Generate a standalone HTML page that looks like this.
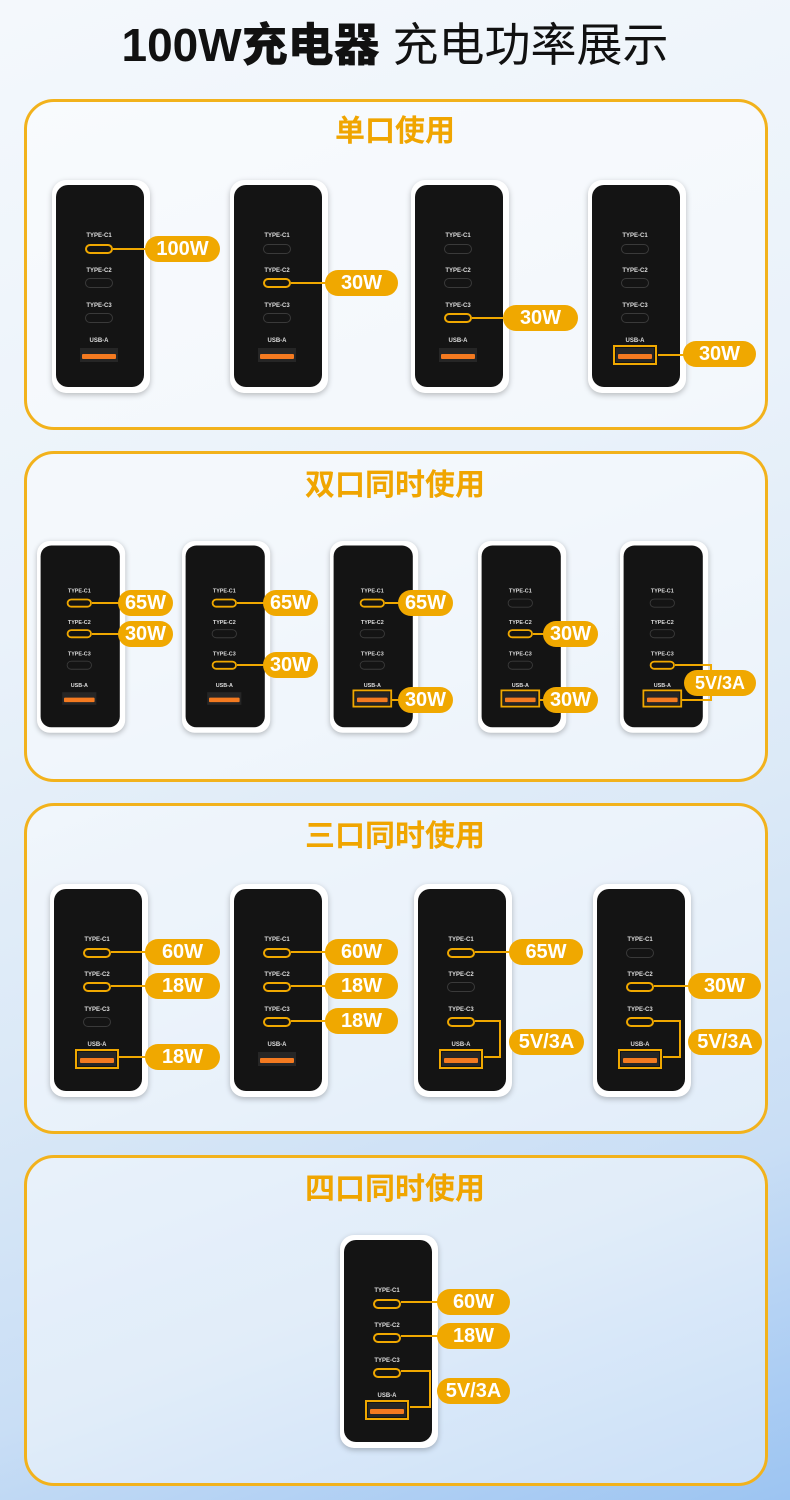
<!DOCTYPE html>
<html><head><meta charset="utf-8"><style>
*{margin:0;padding:0;box-sizing:border-box}
body{width:790px;height:1500px;position:relative;overflow:hidden;font-family:"Liberation Sans","Noto Sans CJK SC",sans-serif;
background:linear-gradient(160deg,#f4f8fc 0%,#eaf2fa 35%,#dbe9f7 60%,#c9def5 80%,#9cc4f2 100%)}
.t{position:absolute;top:16px;left:0;width:790px;text-align:center;font-size:46px;color:#111;line-height:58px}
.t b{font-weight:900}.t span{font-weight:400}
.sec{position:absolute;left:24px;width:744px;height:331px;border:3px solid #f2b21c;border-radius:30px;background:rgba(255,255,255,.45)}
.hd{position:absolute;left:0;width:790px;text-align:center;font-size:30px;font-weight:bold;color:#f0a500;line-height:36px}
.ch{position:absolute;width:98px;height:213px;background:#fff;border-radius:14px;box-shadow:0 2px 6px rgba(0,0,0,.25);transform-origin:0 0}
.ch.s{transform:scale(.9)}
.bk{position:absolute;left:4px;top:5px;right:6px;bottom:6px;background:#141414;border-radius:12px}
.l{position:absolute;left:0;width:94px;text-align:center;font-size:6px;color:#ddd;line-height:8px;font-weight:bold}
.c{position:absolute;left:33px;width:28px;height:10px;border:1.5px solid #3a3a3a;border-radius:6px}
.c.on{border-color:#f0a800;border-width:2px}
.u{position:absolute;left:28px;top:168px;width:38px;height:14px;background:#262626}
.u::after{content:"";position:absolute;left:2px;right:2px;top:6px;height:5px;background:#f47a20;border-radius:1px}
.u.on{outline:2px solid #f0a800;outline-offset:1px}
.p{position:absolute;height:26px;line-height:26px;border-radius:13px;background:#f0a800;color:#fff;font-size:20px;font-weight:bold;text-align:center;transform:translateY(-50%)}
.h{position:absolute;height:2px;background:#f0a800}
.v{position:absolute;width:2px;background:#f0a800}
</style></head><body>
<div class="t"><b>100W充电器</b> <span>充电功率展示</span></div>

<div class="sec" style="top:99px"></div>
<div class="sec" style="top:451px"></div>
<div class="sec" style="top:803px"></div>
<div class="sec" style="top:1155px"></div>
<div class="hd" style="top:114px">单口使用</div>
<div class="hd" style="top:468px">双口同时使用</div>
<div class="hd" style="top:819px">三口同时使用</div>
<div class="hd" style="top:1172px">四口同时使用</div>

<!-- Section 1 -->
<div class="ch" style="left:52px;top:180px"><div class="bk"></div><span class="l" style="top:52px">TYPE-C1</span><i class="c on" style="top:64px"></i><span class="l" style="top:87px">TYPE-C2</span><i class="c" style="top:98px"></i><span class="l" style="top:122px">TYPE-C3</span><i class="c" style="top:133px"></i><span class="l" style="top:157px">USB-A</span><i class="u"></i></div>
<div class="ch" style="left:230px;top:180px"><div class="bk"></div><span class="l" style="top:52px">TYPE-C1</span><i class="c" style="top:64px"></i><span class="l" style="top:87px">TYPE-C2</span><i class="c on" style="top:98px"></i><span class="l" style="top:122px">TYPE-C3</span><i class="c" style="top:133px"></i><span class="l" style="top:157px">USB-A</span><i class="u"></i></div>
<div class="ch" style="left:411px;top:180px"><div class="bk"></div><span class="l" style="top:52px">TYPE-C1</span><i class="c" style="top:64px"></i><span class="l" style="top:87px">TYPE-C2</span><i class="c" style="top:98px"></i><span class="l" style="top:122px">TYPE-C3</span><i class="c on" style="top:133px"></i><span class="l" style="top:157px">USB-A</span><i class="u"></i></div>
<div class="ch" style="left:588px;top:180px"><div class="bk"></div><span class="l" style="top:52px">TYPE-C1</span><i class="c" style="top:64px"></i><span class="l" style="top:87px">TYPE-C2</span><i class="c" style="top:98px"></i><span class="l" style="top:122px">TYPE-C3</span><i class="c" style="top:133px"></i><span class="l" style="top:157px">USB-A</span><i class="u on"></i></div>
<div class="h" style="left:113px;top:248px;width:40px"></div><div class="p" style="left:145px;top:249px;width:75px">100W</div>
<div class="h" style="left:291px;top:282px;width:40px"></div><div class="p" style="left:325px;top:283px;width:73px">30W</div>
<div class="h" style="left:472px;top:317px;width:40px"></div><div class="p" style="left:503px;top:318px;width:75px">30W</div>
<div class="h" style="left:658px;top:354px;width:30px"></div><div class="p" style="left:683px;top:354px;width:73px">30W</div>

<!-- Section 2 -->
<div class="ch s" style="left:37px;top:541px"><div class="bk"></div><span class="l" style="top:52px">TYPE-C1</span><i class="c on" style="top:64px"></i><span class="l" style="top:87px">TYPE-C2</span><i class="c on" style="top:98px"></i><span class="l" style="top:122px">TYPE-C3</span><i class="c" style="top:133px"></i><span class="l" style="top:157px">USB-A</span><i class="u"></i></div>
<div class="ch s" style="left:182px;top:541px"><div class="bk"></div><span class="l" style="top:52px">TYPE-C1</span><i class="c on" style="top:64px"></i><span class="l" style="top:87px">TYPE-C2</span><i class="c" style="top:98px"></i><span class="l" style="top:122px">TYPE-C3</span><i class="c on" style="top:133px"></i><span class="l" style="top:157px">USB-A</span><i class="u"></i></div>
<div class="ch s" style="left:330px;top:541px"><div class="bk"></div><span class="l" style="top:52px">TYPE-C1</span><i class="c on" style="top:64px"></i><span class="l" style="top:87px">TYPE-C2</span><i class="c" style="top:98px"></i><span class="l" style="top:122px">TYPE-C3</span><i class="c" style="top:133px"></i><span class="l" style="top:157px">USB-A</span><i class="u on"></i></div>
<div class="ch s" style="left:478px;top:541px"><div class="bk"></div><span class="l" style="top:52px">TYPE-C1</span><i class="c" style="top:64px"></i><span class="l" style="top:87px">TYPE-C2</span><i class="c on" style="top:98px"></i><span class="l" style="top:122px">TYPE-C3</span><i class="c" style="top:133px"></i><span class="l" style="top:157px">USB-A</span><i class="u on"></i></div>
<div class="ch s" style="left:620px;top:541px"><div class="bk"></div><span class="l" style="top:52px">TYPE-C1</span><i class="c" style="top:64px"></i><span class="l" style="top:87px">TYPE-C2</span><i class="c" style="top:98px"></i><span class="l" style="top:122px">TYPE-C3</span><i class="c on" style="top:133px"></i><span class="l" style="top:157px">USB-A</span><i class="u on"></i></div>
<div class="h" style="left:92px;top:602px;width:30px"></div><div class="p" style="left:118px;top:603px;width:55px">65W</div>
<div class="h" style="left:92px;top:633px;width:30px"></div><div class="p" style="left:118px;top:634px;width:55px">30W</div>
<div class="h" style="left:237px;top:602px;width:30px"></div><div class="p" style="left:263px;top:603px;width:55px">65W</div>
<div class="h" style="left:237px;top:664px;width:30px"></div><div class="p" style="left:263px;top:665px;width:55px">30W</div>
<div class="h" style="left:385px;top:602px;width:20px"></div><div class="p" style="left:398px;top:603px;width:55px">65W</div>
<div class="h" style="left:391px;top:699px;width:12px"></div><div class="p" style="left:398px;top:700px;width:55px">30W</div>
<div class="h" style="left:533px;top:633px;width:14px"></div><div class="p" style="left:543px;top:634px;width:55px">30W</div>
<div class="h" style="left:539px;top:699px;width:10px"></div><div class="p" style="left:543px;top:700px;width:55px">30W</div>
<div class="h" style="left:675px;top:664px;width:37px"></div><div class="v" style="left:710px;top:664px;height:37px"></div><div class="h" style="left:681px;top:699px;width:31px"></div>
<div class="p" style="left:684px;top:683px;width:72px;font-size:18px">5V/3A</div>

<!-- Section 3 -->
<div class="ch" style="left:50px;top:884px"><div class="bk"></div><span class="l" style="top:52px">TYPE-C1</span><i class="c on" style="top:64px"></i><span class="l" style="top:87px">TYPE-C2</span><i class="c on" style="top:98px"></i><span class="l" style="top:122px">TYPE-C3</span><i class="c" style="top:133px"></i><span class="l" style="top:157px">USB-A</span><i class="u on"></i></div>
<div class="ch" style="left:230px;top:884px"><div class="bk"></div><span class="l" style="top:52px">TYPE-C1</span><i class="c on" style="top:64px"></i><span class="l" style="top:87px">TYPE-C2</span><i class="c on" style="top:98px"></i><span class="l" style="top:122px">TYPE-C3</span><i class="c on" style="top:133px"></i><span class="l" style="top:157px">USB-A</span><i class="u"></i></div>
<div class="ch" style="left:414px;top:884px"><div class="bk"></div><span class="l" style="top:52px">TYPE-C1</span><i class="c on" style="top:64px"></i><span class="l" style="top:87px">TYPE-C2</span><i class="c" style="top:98px"></i><span class="l" style="top:122px">TYPE-C3</span><i class="c on" style="top:133px"></i><span class="l" style="top:157px">USB-A</span><i class="u on"></i></div>
<div class="ch" style="left:593px;top:884px"><div class="bk"></div><span class="l" style="top:52px">TYPE-C1</span><i class="c" style="top:64px"></i><span class="l" style="top:87px">TYPE-C2</span><i class="c on" style="top:98px"></i><span class="l" style="top:122px">TYPE-C3</span><i class="c on" style="top:133px"></i><span class="l" style="top:157px">USB-A</span><i class="u on"></i></div>
<div class="h" style="left:111px;top:951px;width:40px"></div><div class="p" style="left:145px;top:952px;width:75px">60W</div>
<div class="h" style="left:111px;top:985px;width:40px"></div><div class="p" style="left:145px;top:986px;width:75px">18W</div>
<div class="h" style="left:118px;top:1056px;width:30px"></div><div class="p" style="left:145px;top:1057px;width:75px">18W</div>
<div class="h" style="left:291px;top:951px;width:40px"></div><div class="p" style="left:325px;top:952px;width:73px">60W</div>
<div class="h" style="left:291px;top:985px;width:40px"></div><div class="p" style="left:325px;top:986px;width:73px">18W</div>
<div class="h" style="left:291px;top:1020px;width:40px"></div><div class="p" style="left:325px;top:1021px;width:73px">18W</div>
<div class="h" style="left:475px;top:951px;width:40px"></div><div class="p" style="left:509px;top:952px;width:74px">65W</div>
<div class="h" style="left:475px;top:1020px;width:26px"></div><div class="v" style="left:499px;top:1020px;height:38px"></div><div class="h" style="left:484px;top:1056px;width:17px"></div>
<div class="p" style="left:509px;top:1042px;width:75px">5V/3A</div>
<div class="h" style="left:654px;top:985px;width:40px"></div><div class="p" style="left:688px;top:986px;width:73px">30W</div>
<div class="h" style="left:654px;top:1020px;width:27px"></div><div class="v" style="left:679px;top:1020px;height:38px"></div><div class="h" style="left:663px;top:1056px;width:18px"></div>
<div class="p" style="left:688px;top:1042px;width:74px">5V/3A</div>

<!-- Section 4 -->
<div class="ch" style="left:340px;top:1235px"><div class="bk"></div><span class="l" style="top:52px">TYPE-C1</span><i class="c on" style="top:64px"></i><span class="l" style="top:87px">TYPE-C2</span><i class="c on" style="top:98px"></i><span class="l" style="top:122px">TYPE-C3</span><i class="c on" style="top:133px"></i><span class="l" style="top:157px">USB-A</span><i class="u on"></i></div>
<div class="h" style="left:401px;top:1301px;width:40px"></div><div class="p" style="left:437px;top:1302px;width:73px">60W</div>
<div class="h" style="left:401px;top:1335px;width:40px"></div><div class="p" style="left:437px;top:1336px;width:73px">18W</div>
<div class="h" style="left:401px;top:1370px;width:30px"></div><div class="v" style="left:429px;top:1370px;height:38px"></div><div class="h" style="left:410px;top:1406px;width:21px"></div>
<div class="p" style="left:437px;top:1391px;width:73px">5V/3A</div>
</body></html>
